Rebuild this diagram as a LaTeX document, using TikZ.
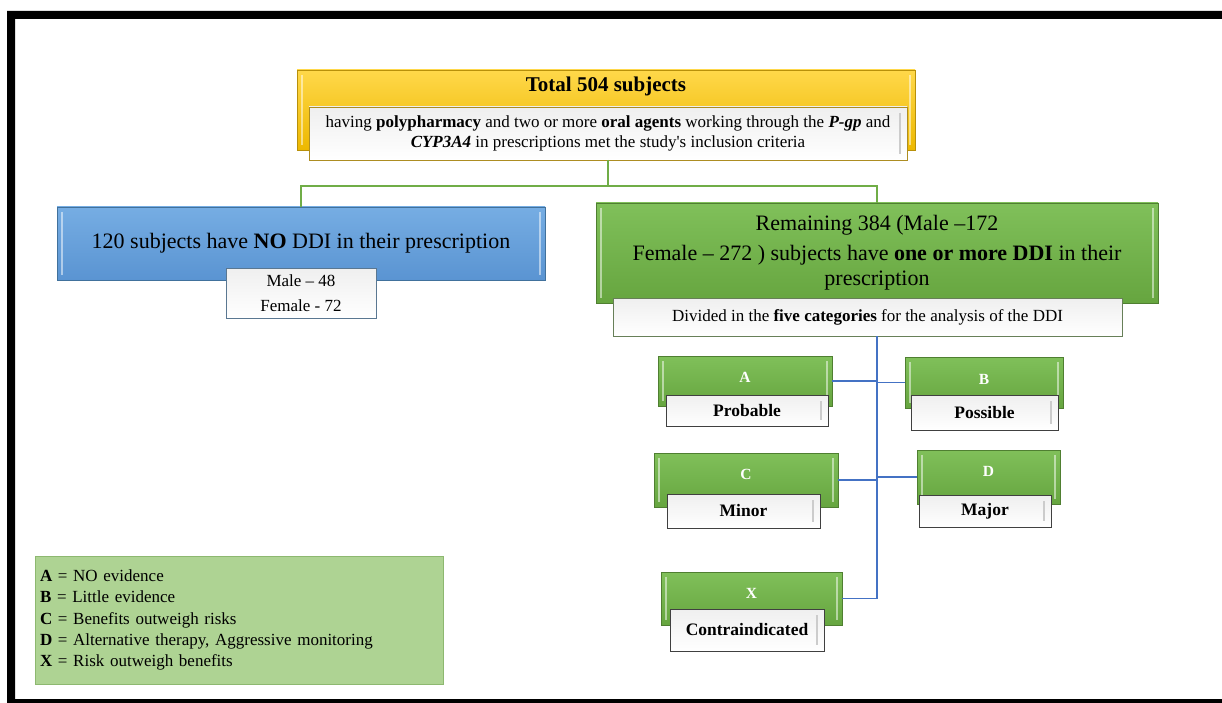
\documentclass[tikz,border=0pt]{standalone}
\usepackage{fontspec}
\setmainfont{Liberation Serif}
\usetikzlibrary{calc}
\definecolor{ytop}{HTML}{FFD84A}
\definecolor{ybot}{HTML}{EDB800}
\definecolor{yborder}{HTML}{B8900A}
\definecolor{btop}{HTML}{76ADE3}
\definecolor{bbot}{HTML}{5A94D2}
\definecolor{bborder}{HTML}{41719C}
\definecolor{gtop}{HTML}{80C05A}
\definecolor{gbot}{HTML}{66A53F}
\definecolor{gborder}{HTML}{4F7F31}
\definecolor{gline}{HTML}{70AD47}
\definecolor{bline}{HTML}{4472C4}
\definecolor{legfill}{HTML}{AED393}
\definecolor{legborder}{HTML}{8DB870}
\definecolor{lbltop}{HTML}{EFEFEF}
\begin{document}
\begin{tikzpicture}[x=1pt,y=-1pt,
  box/.style={draw, inner sep=0pt, outer sep=0pt, align=center},
  bevel/.style={path picture={
     \draw[white,opacity=0.5,line width=1.6pt] ([xshift=5pt,yshift=-5pt]path picture bounding box.north west) -- ([xshift=5pt,yshift=5pt]path picture bounding box.south west);
     \draw[white,opacity=0.5,line width=1.6pt] ([xshift=-5pt,yshift=-5pt]path picture bounding box.north east) -- ([xshift=-5pt,yshift=5pt]path picture bounding box.south east);}},
  lblbevel/.style={path picture={
     \draw[gray!40,line width=1.2pt] ([xshift=-7pt,yshift=-6pt]path picture bounding box.north east) -- ([xshift=-7pt,yshift=6pt]path picture bounding box.south east);}},
  ybox/.style={box, draw=yborder, top color=ytop, bottom color=ybot, bevel, line width=0.8pt},
  bbox/.style={box, draw=bborder, top color=btop, bottom color=bbot, bevel, line width=0.8pt},
  gbox/.style={box, draw=gborder, top color=gtop, bottom color=gbot, bevel, line width=0.8pt},
  wbox/.style={box, top color=lbltop, bottom color=white, line width=0.8pt},
  catg/.style={gbox, text=white, font=\bfseries\fontsize{15.5}{17}\selectfont, anchor=north},
  catl/.style={wbox, draw=black!75, lblbevel, line width=1pt, font=\bfseries\fontsize{17.5}{20}\selectfont},
  gconn/.style={draw=gline, line width=1.1pt},
  bconn/.style={draw=bline, line width=1.1pt}
]
\useasboundingbox (0,0) rectangle (1222,703);
\fill[white] (0,0) rectangle (1222,703);
% frame
\fill[black,even odd rule] (7,11) rectangle (1222,703) (15,19) rectangle (1222,699);

% top
\node[ybox, anchor=north, minimum width=618pt, text height=22pt, text depth=58pt,
      font=\bfseries\fontsize{21}{24}\selectfont] (total) at (606,70) {Total 504 subjects};
\node[wbox, draw=yborder!80!gray, lblbevel, minimum width=598pt, minimum height=53pt,
      font=\fontsize{17}{20}\selectfont] (sub) at (608,133.5)
  {having \textbf{polypharmacy} and two or more \textbf{oral agents} working through the \textbf{\textit{P-gp}} and\\
   \textbf{\textit{CYP3A4}} in prescriptions met the study\textquotesingle s inclusion criteria};

% left branch
\node[bbox, minimum width=488pt, minimum height=73pt, font=\fontsize{22}{26}\selectfont] (noddi) at (301,243.5)
  {120 subjects have \textbf{NO} DDI in their prescription};
\node[wbox, draw=bborder!60!gray, minimum width=150pt, minimum height=50pt,
      font=\fontsize{17}{25}\selectfont] (mf) at (301,293) {Male -- 48\\Female - 72};

% right branch
\node[gbox, minimum width=562pt, minimum height=100pt, font=\fontsize{22}{25}\selectfont] (ddi) at (877,253)
  {Remaining 384 (Male --172\\[5pt]
   Female -- 272 ) subjects have \textbf{one or more DDI} in their\\ prescription};
\node[wbox, draw=gborder!50!gray, minimum width=509pt, minimum height=38pt,
      font=\fontsize{17}{20}\selectfont] (div) at (867.5,317)
  {Divided in the \textbf{five categories} for the analysis of the DDI};

% categories
\node[catg, minimum width=174pt, text height=26pt, text depth=24pt] (A) at (745,356) {A};
\node[catl, minimum width=162pt, minimum height=31pt] (Al) at (747,410.5) {Probable};
\node[catg, minimum width=158pt, text height=27pt, text depth=24pt] (B) at (984,357) {B};
\node[catl, minimum width=147pt, minimum height=35pt] (Bl) at (984.5,412.5) {Possible};
\node[catg, minimum width=184pt, text height=26pt, text depth=28pt] (C) at (746,453) {C};
\node[catl, minimum width=153pt, minimum height=34pt] (Cl) at (743.5,511) {Minor};
\node[catg, minimum width=143pt, text height=26pt, text depth=28pt] (D) at (988.5,450) {D};
\node[catl, minimum width=132pt, minimum height=32pt] (Dl) at (985,511) {Major};
\node[catg, minimum width=181pt, text height=26pt, text depth=27pt] (X) at (751.5,572) {X};
\node[catl, minimum width=154pt, minimum height=42pt] (Xl) at (747,630) {Contraindicated};

% legend
\node[box, draw=legborder, fill=legfill, minimum width=408pt, minimum height=128pt,
      text width=398pt, align=left, font=\fontsize{17}{21.3}\selectfont] (legend) at (239,620)
  {\textbf{A} = NO evidence\\
   \textbf{B} = Little evidence\\
   \textbf{C} = Benefits outweigh risks\\
   \textbf{D} = Alternative therapy, Aggressive monitoring\\
   \textbf{X} = Risk outweigh benefits};

% green connectors
\coordinate (j) at ($(sub.south)+(0,26)$);
\draw[gconn] (sub.south) -- (j) -| (noddi.north);
\draw[gconn] (j) -| (ddi.north);

% blue connectors
\coordinate (ttop) at (div.south -| ddi.north);
\coordinate (tbot) at (X.east -| ttop);
\draw[bconn] (ttop) -- (tbot);
\draw[bconn] (A.east) -- (A.east -| ttop);
\draw[bconn] (B.west) -- (B.west -| ttop);
\draw[bconn] (C.east) -- (C.east -| ttop);
\draw[bconn] (D.west) -- (D.west -| ttop);
\draw[bconn] (X.east) -- (tbot);
\end{tikzpicture}
\end{document}
